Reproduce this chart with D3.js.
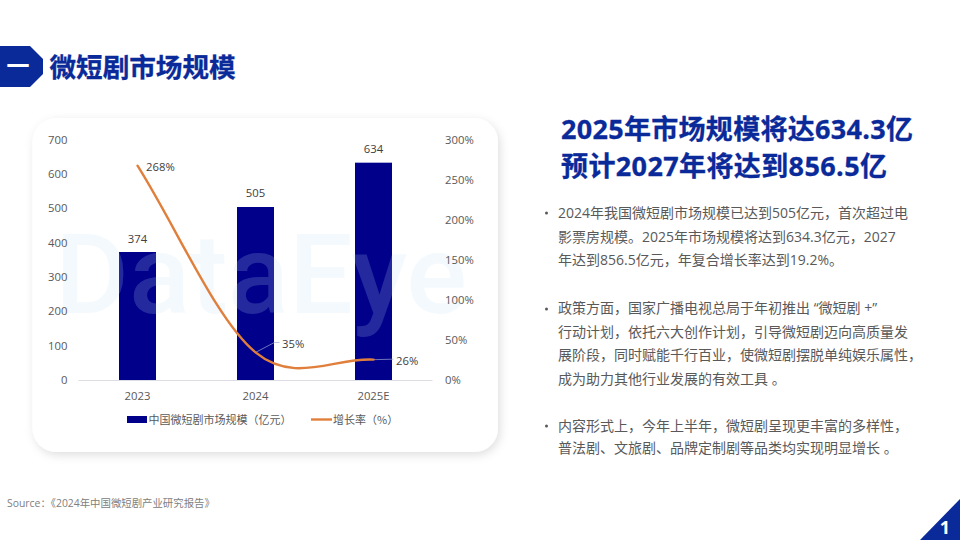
<!DOCTYPE html>
<html lang="zh"><head><meta charset="utf-8">
<script src="https://cdn.jsdelivr.net/npm/d3@7"></script>
<style>
html,body{margin:0;padding:0;background:#fff;width:960px;height:540px;overflow:hidden}
text{font-family:"Open Sans","Noto Sans CJK SC",sans-serif}
</style></head><body>
<svg id="c" width="960" height="540"></svg>
<script>
const categories=["2023","2024","2025E"];
const marketSize=[374,505,634];
const growthRate=[268,35,26];
const leftTicks=[0,100,200,300,400,500,600,700];
const rightTicks=[0,50,100,150,200,250,300];
const legendLabels=["中国微短剧市场规模（亿元）","增长率（%）"];
const sectionTitle="微短剧市场规模";
const sectionNo="一";
const headlines=["2025年市场规模将达634.3亿","预计2027年将达到856.5亿"];
const paragraphs=[
 ["2024年我国微短剧市场规模已达到505亿元，首次超过电","影票房规模。2025年市场规模将达到634.3亿元，2027","年达到856.5亿元，年复合增长率达到19.2%。"],
 ["政策方面，国家广播电视总局于年初推出 “微短剧 +”","行动计划，依托六大创作计划，引导微短剧迈向高质量发","展阶段，同时赋能千行百业，使微短剧摆脱单纯娱乐属性，","成为助力其他行业发展的有效工具 。"],
 ["内容形式上，今年上半年，微短剧呈现更丰富的多样性，","普法剧、文旅剧、品牌定制剧等品类均实现明显增长 。"]
];
const paragraphRows=[[212.2,236.2,259.2],[307.5,331,354,378],[425,447.5]];
const sourceText="Source：《2024年中国微短剧产业研究报告》";
const pageNo="1";
const BLUE="#0a2a9a",NAVY="#00008b",ORANGE="#e07f3c",GREY="#595959";
const CJK='"Noto Sans CJK SC",sans-serif';
const MIXED='"Open Sans","Noto Sans CJK SC",sans-serif';

const svg=d3.select("#c");
const defs=svg.append("defs");
const f=defs.append("filter").attr("id","sh").attr("x","-10%").attr("y","-10%").attr("width","120%").attr("height","125%");
f.append("feDropShadow").attr("dx",2).attr("dy",3).attr("stdDeviation",5).attr("flood-color","#000").attr("flood-opacity",0.13);

// header
svg.append("path").attr("d","M0,46L30,46L43,59L43,74L30,87L0,87Z").attr("fill",BLUE);
svg.append("text").attr("x",18).attr("y",64).attr("text-anchor","middle").attr("dominant-baseline","central")
  .attr("font-size",23).attr("font-weight",700).attr("fill","#fff").style("font-family",CJK).text(sectionNo);
svg.append("text").attr("x",49.5).attr("y",65).attr("dominant-baseline","central")
  .attr("font-size",26.6).attr("font-weight",700).attr("fill",BLUE).attr("stroke",BLUE).attr("stroke-width",0.3).style("font-family",CJK).text(sectionTitle);

// card
svg.append("rect").attr("x",32.5).attr("y",118).attr("width",465.5).attr("height",334).attr("rx",24)
  .attr("fill","#fff").attr("filter","url(#sh)");

// scales
const x=d3.scaleBand().domain(categories).range([78.5,432.5]);
const yL=d3.scaleLinear().domain([0,700]).range([380.5,140]);
const yR=d3.scaleLinear().domain([0,300]).range([380.5,140]);
const cx=c=>x(c)+x.bandwidth()/2;
const barW=37;

// bars
svg.append("g").selectAll("rect").data(categories).join("rect")
  .attr("x",c=>cx(c)-barW/2).attr("width",barW)
  .attr("y",(c,i)=>yL(marketSize[i])).attr("height",(c,i)=>yL(0)-yL(marketSize[i]))
  .attr("fill",NAVY);

// watermark
svg.append("text").attr("x",55).attr("y",313).attr("font-size",112).attr("font-weight",500)
  .attr("textLength",412).attr("lengthAdjust","spacingAndGlyphs")
  .attr("fill","rgb(190,222,245)").attr("fill-opacity",0.19).style("font-family",'Roboto,sans-serif').text("DataEye");

// axes
function styleAxis(g){g.select(".domain").remove();g.selectAll(".tick line").remove();
  g.selectAll("text").attr("fill",GREY).attr("font-size",11.3).style("font-family",MIXED);}
svg.append("g").attr("transform","translate(67.5,-0.5)")
  .call(d3.axisLeft(yL).tickValues(leftTicks).tickSize(0).tickPadding(0)).call(styleAxis);
svg.append("g").attr("transform","translate(445,-0.5)")
  .call(d3.axisRight(yR).tickValues(rightTicks).tickFormat(d=>d+"%").tickSize(0).tickPadding(0)).call(styleAxis);
svg.append("line").attr("x1",78.5).attr("x2",432.5).attr("y1",yL(0)).attr("y2",yL(0)).attr("stroke","#dcdde4").attr("stroke-width",1);
svg.append("g").attr("transform","translate(0,"+(yL(0)+11.5)+")")
  .call(d3.axisBottom(x).tickSize(0).tickPadding(0)).call(styleAxis);

// leader lines
const lead=d3.line();
svg.append("path").attr("fill","none").attr("stroke","#9fa8d0").attr("stroke-width",0.7)
  .attr("d",lead([[cx(categories[1]),yR(growthRate[1])],[cx(categories[1])+19,yR(growthRate[1])-10],[cx(categories[1])+24,yR(growthRate[1])-10]]));
svg.append("path").attr("fill","none").attr("stroke","#9fa8d0").attr("stroke-width",0.7)
  .attr("d",lead([[cx(categories[2]),yR(growthRate[2])],[cx(categories[2])+20,yR(growthRate[2])-0.5]]));

// spreadsheet-style smoothing: neighbour tangents inside, chord-aimed handles at the ends
function sheetSmooth(context){
  let pts;
  return {
    lineStart(){pts=[];},
    point(px,py){pts.push([+px,+py]);},
    lineEnd(){
      const n=pts.length;
      if(!n) return;
      context.moveTo(pts[0][0],pts[0][1]);
      for(let i=0;i<n-1;i++){
        const p0=pts[i],p1=pts[i+1];
        const c1=i===0?[p0[0]+(p1[0]-p0[0])/3,p0[1]+(p1[1]-p0[1])/3]
          :[p0[0]+(p1[0]-pts[i-1][0])/6,p0[1]+(p1[1]-pts[i-1][1])/6];
        const c2=i===n-2?[p1[0]-(p1[0]-p0[0])/3,p1[1]-(p1[1]-p0[1])/3]
          :[p1[0]-(pts[i+2][0]-p0[0])/6,p1[1]-(pts[i+2][1]-p0[1])/6];
        context.bezierCurveTo(c1[0],c1[1],c2[0],c2[1],p1[0],p1[1]);
      }
    }
  };
}
const line=d3.line().x((d,i)=>cx(categories[i])).y(d=>yR(d)).curve(sheetSmooth);
svg.append("path").datum(growthRate).attr("d",line).attr("fill","none").attr("stroke",ORANGE)
  .attr("stroke-width",2.4).attr("stroke-linecap","round");

// data labels
svg.append("g").selectAll("text").data(categories).join("text")
  .attr("x",c=>cx(c)).attr("y",(c,i)=>yL(marketSize[i])-14)
  .attr("text-anchor","middle").attr("dominant-baseline","central").attr("font-size",11.3).attr("fill","#404040")
  .text((c,i)=>marketSize[i]);
const growthDx=[8.5,26.5,22.5],growthDy=[0.5,-9,0.5];
svg.append("g").selectAll("text").data(categories).join("text")
  .attr("x",(c,i)=>cx(c)+growthDx[i]).attr("y",(c,i)=>yR(growthRate[i])+growthDy[i])
  .attr("dominant-baseline","central").attr("font-size",11.3).attr("fill","#404040")
  .text((c,i)=>growthRate[i]+"%");

// legend
svg.append("rect").attr("x",127).attr("y",416).attr("width",20).attr("height",7).attr("fill",NAVY);
svg.append("text").attr("x",148.5).attr("y",418.5).attr("dominant-baseline","central").attr("font-size",11).attr("fill",GREY).style("font-family",CJK).text(legendLabels[0]);
svg.append("line").attr("x1",311).attr("x2",332).attr("y1",419.5).attr("y2",419.5).attr("stroke",ORANGE).attr("stroke-width",2.4);
svg.append("text").attr("x",333).attr("y",418.5).attr("dominant-baseline","central").attr("font-size",11).attr("fill",GREY).style("font-family",CJK).text(legendLabels[1]);

// headlines
const hl=[[561,128,352],[561,165,326]];
svg.append("g").selectAll("text").data(headlines).join("text")
  .attr("x",(d,i)=>hl[i][0]).attr("y",(d,i)=>hl[i][1]).attr("dominant-baseline","central")
  .attr("font-size",27).attr("font-weight",700).attr("fill",BLUE).attr("stroke",BLUE).attr("stroke-width",0.3).style("font-family",MIXED)
  .attr("textLength",(d,i)=>hl[i][2]).attr("lengthAdjust","spacing").text(d=>d);

// body
const bulletRows=[213,309,426];
paragraphs.forEach((p,pi)=>{
  svg.append("circle").attr("cx",546.5).attr("cy",bulletRows[pi]).attr("r",1.5).attr("fill",GREY);
  svg.append("g").selectAll("text").data(p).join("text")
    .attr("x",558).attr("y",(d,i)=>paragraphRows[pi][i]).attr("dominant-baseline","central")
    .attr("font-size",14).attr("fill",GREY).style("font-family",MIXED).text(d=>d);
});

// source + page
svg.append("text").attr("x",7).attr("y",503).attr("dominant-baseline","central").attr("font-size",10.4).attr("fill","#808080").style("font-family",MIXED).text(sourceText);
svg.append("path").attr("d","M920,540L960,499L960,540Z").attr("fill",BLUE);
svg.append("text").attr("x",945).attr("y",527).attr("text-anchor","middle").attr("dominant-baseline","central")
  .attr("font-size",18).attr("font-weight",700).attr("fill","#fff").style("font-family",'"Open Sans",sans-serif').text(pageNo);
</script>
</body></html>
